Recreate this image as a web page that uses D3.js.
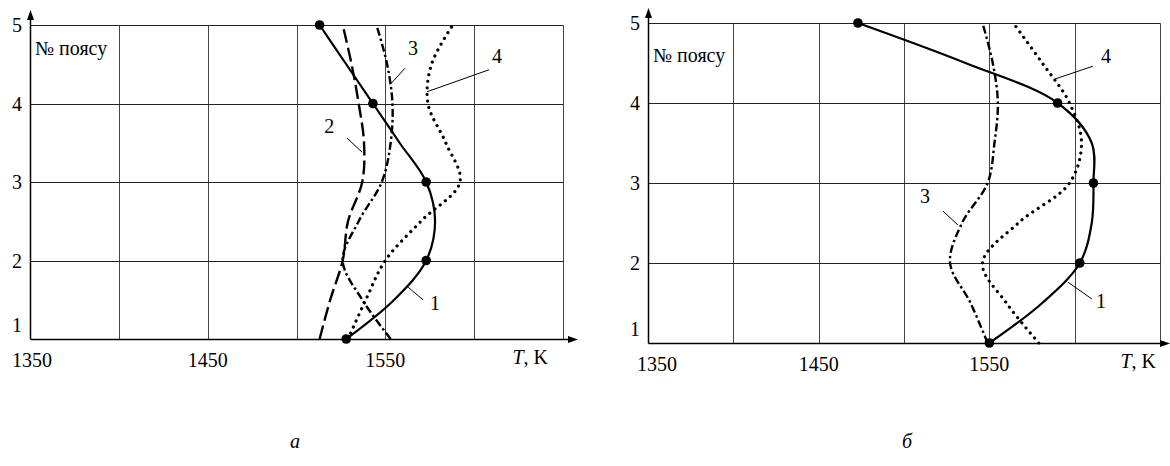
<!DOCTYPE html>
<html>
<head>
<meta charset="utf-8">
<script src="https://cdn.jsdelivr.net/npm/d3@7"></script>
<style>
  html, body { margin: 0; padding: 0; background: #fff; }
  svg { display: block; }
</style>
</head>
<body>
<svg id="chart" width="1170" height="466" font-family="'Liberation Serif', 'DejaVu Serif', serif"></svg>
<script>
// Zone numbers (vertical axis) at which temperatures are sampled
const zones = [1, 1.5, 2, 2.5, 3, 3.5, 4, 4.5, 5];
const zoneTicks = [1, 2, 3, 4, 5];
const tempTicks = [1350, 1400, 1450, 1500, 1550, 1600, 1650];
const tempLabels = [1350, 1450, 1550];

// Panel "а": temperature, K, for each zone
const leftCurve1 = [1528, 1555, 1573, 1578, 1573, 1558, 1543, 1528, 1513];
const leftCurve2 = [1513, 1519, 1526, 1529, 1537, 1538, 1535, 1531, 1526];
const leftCurve3 = [1553, 1537, 1526, 1535, 1548, 1553, 1554, 1551, 1545];
const leftCurve4 = [1529, 1539, 1550, 1570, 1592, 1584, 1574, 1576, 1588];

// Panel "б": temperature, K, for each zone
const rightCurve1 = [1550, 1581, 1603, 1610, 1611, 1610, 1590, 1536, 1473];
const rightCurve3 = [1549, 1539, 1527, 1534, 1549, 1553, 1555, 1552, 1546];
const rightCurve4 = [1579, 1560, 1546, 1567, 1597, 1604, 1597, 1581, 1564];

// Curve labels: [text, label T, label zone, leader start T, zone, leader end T, zone]
const leftLabels = [
  ["1", 1578, 1.37, 1571.2, 1.50, 1562.8, 1.66],
  ["2", 1518.5, 3.62, 1528.4, 3.56, 1536.9, 3.38],
  ["3", 1565.6, 4.62, 1561.1, 4.45, 1552.6, 4.24],
  ["4", 1612.9, 4.52, 1608.4, 4.43, 1573.5, 4.15]
];
const rightLabels = [
  ["1", 1615.4, 1.44, 1610.1, 1.55, 1596.1, 1.76],
  ["3", 1512.3, 2.75, 1522.8, 2.65, 1531.6, 2.475],
  ["4", 1618.3, 4.50, 1610.7, 4.46, 1588.5, 4.30]
];

const styles = {
  solid:   { width: 2.2, dash: null,          cap: "butt" },
  dashed:  { width: 2.4, dash: "14,5",        cap: "butt" },
  dashdot: { width: 2.4, dash: "8,3,2.5,3",   cap: "butt" },
  dotted:  { width: 3.2, dash: "0.01,6.6",    cap: "round" }
};

const svg = d3.select("#chart");
const FONT = "'Liberation Serif', 'DejaVu Serif', serif";
const FS = 20;

function txt(sel) {
  return sel.attr("font-family", FONT).attr("font-size", FS).attr("fill", "#000");
}

function drawPanel(cfg) {
  const x = d3.scaleLinear().domain([1350, 1650]).range([cfg.x0, cfg.x1]);
  const y = d3.scaleLinear().domain([1, 5]).range([cfg.y0, cfg.y1]);
  const g = svg.append("g");

  // grid
  g.selectAll(".vgrid").data(tempTicks.slice(1)).join("line")
    .attr("x1", d => Math.round(x(d)) + 0.5).attr("x2", d => Math.round(x(d)) + 0.5)
    .attr("y1", cfg.y0).attr("y2", Math.round(cfg.y1) + 0.5)
    .attr("stroke", "#444").attr("stroke-width", 1);
  g.selectAll(".hgrid").data(zoneTicks.slice(1)).join("line")
    .attr("x1", cfg.x0).attr("x2", Math.round(cfg.x1) + 0.5)
    .attr("y1", d => Math.round(y(d)) + 0.5).attr("y2", d => Math.round(y(d)) + 0.5)
    .attr("stroke", "#222").attr("stroke-width", 1);

  // axes with arrowheads
  const ax = Math.round(cfg.x0) + 0.5, ay = Math.round(cfg.y0) + 0.5;
  g.append("line").attr("x1", ax).attr("x2", cfg.arrowX - 8).attr("y1", ay).attr("y2", ay)
    .attr("stroke", "#000").attr("stroke-width", 1.5);
  g.append("path").attr("d", `M${cfg.arrowX},${ay} L${cfg.arrowX - 10},${ay - 3.5} L${cfg.arrowX - 10},${ay + 3.5} Z`)
    .attr("fill", "#000");
  g.append("line").attr("x1", ax).attr("x2", ax).attr("y1", ay).attr("y2", cfg.arrowY + 8)
    .attr("stroke", "#000").attr("stroke-width", 1.5);
  g.append("path").attr("d", `M${ax},${cfg.arrowY} L${ax - 3.5},${cfg.arrowY + 10} L${ax + 3.5},${cfg.arrowY + 10} Z`)
    .attr("fill", "#000");

  // tick labels
  txt(g.selectAll(".xl").data(tempLabels).join("text"))
    .attr("x", d => x(d) + (d === 1350 ? cfg.firstLabelShift : 0))
    .attr("y", cfg.y0 + 28).attr("text-anchor", "middle")
    .text(d => d);
  txt(g.selectAll(".yl").data(zoneTicks).join("text"))
    .attr("x", cfg.x0 - 8).attr("y", d => y(d) + (d === 1 ? -14 : 0)).attr("dy", "0.35em")
    .attr("text-anchor", "end").text(d => d);

  // axis titles
  const tt = txt(g.append("text")).attr("x", cfg.tTitleX).attr("y", cfg.y0 + 25)
    .attr("text-anchor", "end");
  tt.append("tspan").attr("font-style", "italic").text("T");
  tt.append("tspan").text(", K");
  txt(g.append("text")).attr("x", cfg.x0 + 5).attr("y", cfg.y1 + cfg.zoneTitleDy)
    .text("№ поясу");

  // curves
  const line = d3.line()
    .x(d => x(d[0])).y(d => y(d[1]))
    .curve(d3.curveCatmullRom.alpha(0.5));
  cfg.series.forEach(s => {
    const pts = s.values.map((v, i) => [v, zones[i]]);
    const st = styles[s.style];
    g.append("path").attr("d", line(pts))
      .attr("fill", "none").attr("stroke", "#000")
      .attr("stroke-width", st.width)
      .attr("stroke-dasharray", st.dash)
      .attr("stroke-linecap", st.cap)
      .attr("stroke-linejoin", "round");
    if (s.markers) {
      g.selectAll(null).data(pts.filter(p => Number.isInteger(p[1]))).join("circle")
        .attr("cx", d => x(d[0])).attr("cy", d => y(d[1])).attr("r", 4.8)
        .attr("fill", "#000");
    }
  });

  // curve labels with leader lines
  cfg.labels.forEach(l => {
    g.append("line")
      .attr("x1", x(l[3])).attr("y1", y(l[4]))
      .attr("x2", x(l[5])).attr("y2", y(l[6]))
      .attr("stroke", "#000").attr("stroke-width", 1);
    txt(g.append("text")).attr("x", x(l[1])).attr("y", y(l[2]))
      .attr("text-anchor", "middle").text(l[0]);
  });

  // panel caption
  txt(svg.append("text")).attr("x", cfg.captionX).attr("y", 448)
    .attr("text-anchor", "middle").attr("font-style", "italic")
    .text(cfg.caption);
}

drawPanel({
  x0: 30, x1: 563, y0: 339, y1: 25, arrowX: 578, arrowY: 10,
  tTitleX: 548, zoneTitleDy: 30, firstLabelShift: 2,
  caption: "а", captionX: 295,
  series: [
    { values: leftCurve1, style: "solid", markers: true },
    { values: leftCurve2, style: "dashed" },
    { values: leftCurve3, style: "dashdot" },
    { values: leftCurve4, style: "dotted" }
  ],
  labels: leftLabels
});

drawPanel({
  x0: 648, x1: 1160, y0: 343, y1: 23, arrowX: 1170, arrowY: 8,
  tTitleX: 1156, zoneTitleDy: 39, firstLabelShift: 9,
  caption: "б", captionX: 907,
  series: [
    { values: rightCurve1, style: "solid", markers: true },
    { values: rightCurve3, style: "dashdot" },
    { values: rightCurve4, style: "dotted" }
  ],
  labels: rightLabels
});
</script>
</body>
</html>
